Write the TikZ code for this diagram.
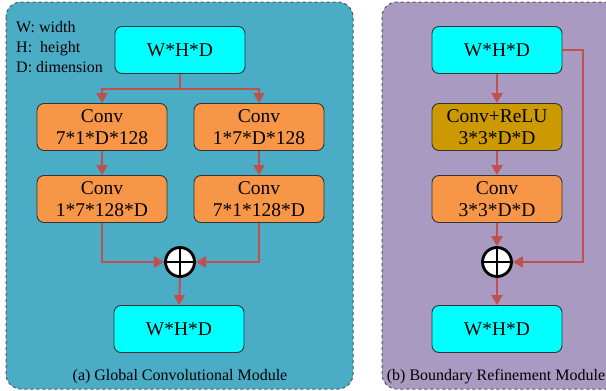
\documentclass[tikz,border=0pt]{standalone}
\usepackage{fontspec}
\setmainfont{Liberation Serif}
\usetikzlibrary{arrows.meta}
\definecolor{panelA}{HTML}{4BACC6}
\definecolor{panelB}{HTML}{A99AC1}
\definecolor{boxcyan}{HTML}{00FFFF}
\definecolor{boxorange}{HTML}{F79646}
\definecolor{boxgold}{HTML}{CC9900}
\definecolor{arrowred}{HTML}{C0504D}
\definecolor{edgegray}{HTML}{555555}
\tikzset{
  panel/.style={draw=edgegray, dashed, line width=1pt, rounded corners=15pt},
  blk/.style={draw=black!80, line width=0.9pt, rounded corners=7pt, minimum width=130pt, minimum height=47pt, align=center, font=\fontsize{19.5}{22}\selectfont, inner sep=0pt},
  cyanbox/.style={blk, fill=boxcyan},
  orangebox/.style={blk, fill=boxorange},
  goldbox/.style={blk, fill=boxgold},
  sumnode/.style={circle, draw=black, fill=white, line width=2.8pt, minimum size=29pt, inner sep=0pt},
  conn/.style={draw=arrowred, line width=2pt},
  arr/.style={conn, -{Triangle[length=10pt,width=11pt]}},
  captext/.style={font=\fontsize{16}{18}\selectfont}
}
\begin{document}
\begin{tikzpicture}[x=1pt,y=-1pt]
\useasboundingbox (0,0) rectangle (606,391);
% panels
\path[panel, fill=panelA] (6,2) rectangle (353,389);
\path[panel, fill=panelB] (382,2) rectangle (650,389);
% legend
\node[anchor=north west, align=left, inner sep=0pt, font=\fontsize{16}{20}\selectfont] (legend) at (16,21) {W: width\\H:\ \ height\\D: dimension};
% left module
\node[cyanbox] (t1) at (180,50) {W*H*D};
\node[orangebox] (a1) at (102,127) {Conv\\7*1*D*128};
\node[orangebox] (a2) at (102,199) {Conv\\1*7*128*D};
\node[orangebox] (b1) at (259,127) {Conv\\1*7*D*128};
\node[orangebox] (b2) at (259,199) {Conv\\7*1*128*D};
\node[sumnode] (p1) at (180,262) {};
\draw[black, line width=2.8pt] (p1.north) -- (p1.south) (p1.west) -- (p1.east);
\node[cyanbox] (o1) at (179,329) {W*H*D};
\node[captext] (capA) at (180,377) {(a) Global Convolutional Module};
\coordinate (j1) at (180,89);
\draw[conn] (t1.south) -- (j1);
\draw[arr] (j1) -| (a1.north);
\draw[arr] (j1) -| (b1.north);
\draw[arr] (a1.south) -- (a2.north);
\draw[arr] (b1.south) -- (b2.north);
\draw[arr] (a2.south) |- (p1.west);
\draw[arr] (b2.south) |- (p1.east);
\draw[arr] (p1.south) -- (o1.north);
% right module
\node[cyanbox] (t2) at (497,50) {W*H*D};
\node[goldbox] (c1) at (497,127) {Conv+ReLU\\3*3*D*D};
\node[orangebox] (c2) at (497,199) {Conv\\3*3*D*D};
\node[sumnode] (p2) at (497,262) {};
\draw[black, line width=2.8pt] (p2.north) -- (p2.south) (p2.west) -- (p2.east);
\node[cyanbox] (o2) at (497,329) {W*H*D};
\node[captext] (capB) at (496,377) {(b) Boundary Refinement Module};
\coordinate (sk) at (583,50);
\draw[arr] (t2.south) -- (c1.north);
\draw[arr] (c1.south) -- (c2.north);
\draw[arr] (c2.south) -- (p2.north);
\draw[arr] (t2.east) -- (sk) |- (p2.east);
\draw[arr] (p2.south) -- (o2.north);
\end{tikzpicture}
\end{document}
